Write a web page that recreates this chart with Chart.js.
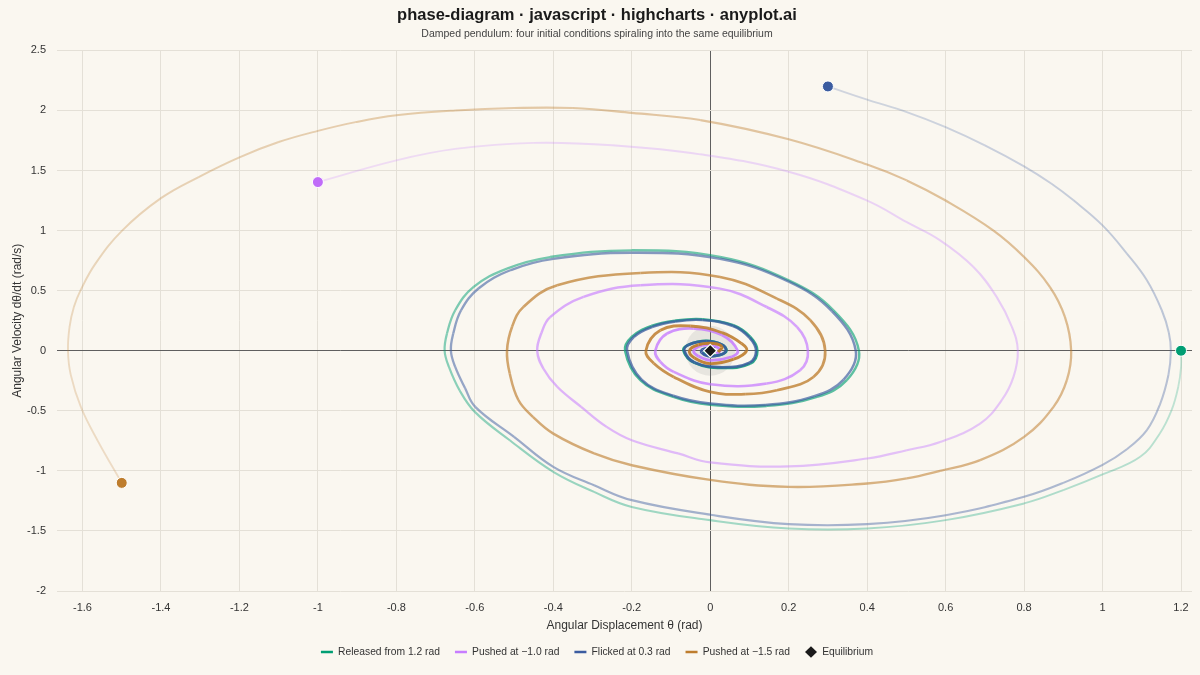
<!DOCTYPE html>
<html>
<head>
<meta charset="utf-8">
<script src="https://cdn.jsdelivr.net/npm/chart.js@4.4.1/dist/chart.umd.min.js"></script>
<style>
html,body{margin:0;padding:0;background:#FAF7F0;overflow:hidden;}
#wrap{width:1200px;height:675px;position:relative;}
</style>
</head>
<body>
<div id="wrap"><canvas id="c"></canvas></div>
<script>
// ---- Tick labels ----
const xTicks = [-1.6,-1.4,-1.2,-1,-0.8,-0.6,-0.4,-0.2,0,0.2,0.4,0.6,0.8,1,1.2];
const yTicks = [-2,-1.5,-1,-0.5,0,0.5,1,1.5,2,2.5];

// ---- Series names ----
const seriesNames = ['Released from 1.2 rad','Pushed at \u22121.0 rad','Flicked at 0.3 rad','Pushed at \u22121.5 rad'];

// ---- Released from 1.2 rad (theta, omega) ----
const greenTheta = [1.2,1.2,1.193,1.176,1.146,1.096,1.0,0.9,0.8,0.6,0.4,0.2,0.0,-0.2,-0.296,-0.4,-0.511,-0.6,-0.639,-0.666,-0.677,-0.671,-0.65,-0.603,-0.518,-0.408,-0.2,0.025,0.2,0.314,0.379,0.348,0.272,0.144,0.0,-0.094,-0.178,-0.217,-0.2,-0.15,-0.09,-0.02,0.059,0.102,0.12,0.102,0.03,-0.04,-0.068,-0.055,-0.01,0.03,0.041,0.025,-0.005,-0.02];
const greenOmega = [0,-0.135,-0.30,-0.495,-0.689,-0.883,-1.03,-1.16,-1.271,-1.41,-1.48,-1.48,-1.41,-1.30,-1.175,-1.008,-0.745,-0.509,-0.329,-0.135,0,0.143,0.337,0.531,0.684,0.78,0.836,0.78,0.586,0.337,0,-0.245,-0.384,-0.459,-0.45,-0.384,-0.245,0,0.115,0.205,0.25,0.262,0.212,0.115,0,-0.107,-0.143,-0.1,0,0.05,0.082,0.05,0,-0.035,-0.04,-0.015];

// ---- Pushed at -1.0 rad ----
const purpleTheta = [-1.0,-0.8,-0.65,-0.45,-0.25,-0.025,0.2,0.4,0.501,0.586,0.671,0.730,0.769,0.784,0.773,0.743,0.688,0.586,0.501,0.4,0.2,0.0,-0.082,-0.2,-0.264,-0.329,-0.39,-0.425,-0.441,-0.43,-0.408,-0.323,-0.178,0.025,0.144,0.221,0.249,0.229,0.144,0.0,-0.093,-0.127,-0.14,-0.11,-0.042,0.03,0.07,0.055,0.0,-0.03,-0.042,-0.02,0.01,0.025,0.015];
const purpleOmega = [1.404,1.585,1.68,1.73,1.71,1.635,1.49,1.25,1.07,0.919,0.697,0.448,0.198,0,-0.218,-0.412,-0.606,-0.759,-0.828,-0.897,-0.963,-0.93,-0.855,-0.745,-0.634,-0.467,-0.3,-0.15,0,0.15,0.28,0.448,0.545,0.517,0.364,0.198,0,-0.162,-0.273,-0.279,-0.176,-0.093,0,0.143,0.185,0.13,0,-0.05,-0.08,-0.045,0,0.045,0.04,0,-0.02];

// ---- Flicked at 0.3 rad ----
const blueTheta = [0.3,0.4,0.501,0.6,0.7,0.8,0.87,0.926,1.0,1.062,1.113,1.151,1.169,1.174,1.168,1.146,1.113,1.062,1.0,0.9,0.8,0.6,0.4,0.2,0.0,-0.2,-0.296,-0.4,-0.5,-0.599,-0.625,-0.65,-0.661,-0.655,-0.635,-0.59,-0.508,-0.4,-0.2,0.025,0.2,0.31,0.371,0.34,0.265,0.14,0.0,-0.094,-0.175,-0.212,-0.195,-0.147,-0.088,-0.02,0.058,0.1,0.117,0.1,0.03,-0.04,-0.066,-0.055,-0.01,0.03,0.04,0.025,-0.005,-0.022,-0.02,0.0,0.012];
const blueOmega = [2.2,2.09,1.987,1.862,1.71,1.535,1.39,1.252,1.044,0.809,0.587,0.337,0.15,0,-0.2,-0.45,-0.661,-0.82,-0.95,-1.10,-1.216,-1.369,-1.443,-1.443,-1.365,-1.244,-1.12,-0.967,-0.717,-0.467,-0.31,-0.135,0,0.143,0.337,0.52,0.672,0.765,0.815,0.765,0.575,0.33,0,-0.24,-0.378,-0.452,-0.44,-0.375,-0.24,0,0.115,0.2,0.245,0.256,0.207,0.11,0,-0.1,-0.138,-0.098,0,0.05,0.08,0.05,0,-0.035,-0.045,-0.015,0.01,0.025,0.015];

// ---- Pushed at -1.5 rad ----
const orangeTheta = [-1.5,-1.562,-1.604,-1.63,-1.637,-1.633,-1.622,-1.605,-1.567,-1.499,-1.40,-1.304,-1.2,-1.1,-1.0,-0.904,-0.8,-0.65,-0.5,-0.35,-0.2,-0.025,0.2,0.4,0.501,0.6,0.722,0.8,0.866,0.904,0.92,0.909,0.875,0.8,0.688,0.586,0.501,0.4,0.2,0.0,-0.2,-0.296,-0.4,-0.452,-0.489,-0.511,-0.518,-0.505,-0.476,-0.39,-0.178,0.025,0.17,0.255,0.293,0.263,0.17,0.089,0.0,-0.093,-0.144,-0.164,-0.127,-0.051,0.03,0.08,0.093,0.06,0.0,-0.04,-0.053,-0.03,0.01,0.03,0.02];
const orangeOmega = [-1.10,-0.745,-0.47,-0.2,0,0.198,0.364,0.503,0.725,1.0,1.27,1.446,1.61,1.737,1.83,1.903,1.96,2.0,2.02,2.02,1.98,1.92,1.76,1.55,1.418,1.25,1.0,0.78,0.53,0.281,0,-0.245,-0.467,-0.717,-0.911,-1.0,-1.063,-1.105,-1.133,-1.075,-0.953,-0.855,-0.69,-0.55,-0.41,-0.19,0,0.2,0.365,0.545,0.647,0.614,0.434,0.254,0,-0.218,-0.329,-0.362,-0.343,-0.218,-0.104,0,0.17,0.206,0.15,0.06,0,-0.07,-0.107,-0.06,0,0.05,0.06,0.03,-0.01];

// ---- Equilibrium ----
const eqTheta = [0];
const eqOmega = [0];

// ---- styles ----
const rgbGreen = '0,158,115', rgbPurple = '199,125,255', rgbBlue = '59,92,160', rgbOrange = '190,125,45';
const dotPurple = 'rgb(192,108,248)';

function pts(t, o){ return t.map((v,i)=>({x:v, y:o[i]})); }

function trajectory(label, t, o, rgb, dot, order){
  const n = t.length;
  const frac = ctx => ctx.p0DataIndex / (n - 1);
  return {
    label, data: pts(t,o), showLine: true, tension: 0.4, order,
    legendColor: 'rgb(' + rgb + ')',
    borderColor: 'rgb(' + rgb + ')',
    borderWidth: 2.2,
    borderCapStyle: 'butt',
    segment: {
      borderColor: ctx => 'rgba(' + rgb + ',' + (0.22 + 0.78 * Math.pow(frac(ctx), 1.1)).toFixed(3) + ')',
      borderWidth: ctx => 1.8 + 1.2 * frac(ctx)
    },
    pointRadius: ctx => ctx.dataIndex === 0 ? 5.5 : 0,
    pointHoverRadius: ctx => ctx.dataIndex === 0 ? 5.5 : 0,
    pointBackgroundColor: dot,
    pointBorderColor: '#ffffff',
    pointBorderWidth: 1,
    fill: false
  };
}

const datasets = [
  trajectory(seriesNames[0], greenTheta, greenOmega, rgbGreen, 'rgb(' + rgbGreen + ')', 5),
  trajectory(seriesNames[1], purpleTheta, purpleOmega, rgbPurple, dotPurple, 4),
  trajectory(seriesNames[2], blueTheta, blueOmega, rgbBlue, 'rgb(' + rgbBlue + ')', 3),
  trajectory(seriesNames[3], orangeTheta, orangeOmega, rgbOrange, 'rgb(' + rgbOrange + ')', 2),
  {
    label: 'Equilibrium', data: pts(eqTheta, eqOmega), showLine: false, order: 0,
    pointStyle: 'rectRot', pointRadius: 6.5, pointHoverRadius: 6.5,
    pointBackgroundColor: '#1a1a1a', pointBorderColor: '#ffffff', pointBorderWidth: 1.2,
    legendColor: '#1a1a1a'
  },
  {
    label: 'basin', data: pts(eqTheta, eqOmega), showLine: false, order: 100, noLegend: true,
    pointRadius: 25, pointHoverRadius: 25, pointBackgroundColor: 'rgba(120,120,120,0.14)', pointBorderWidth: 0
  }
];

const FONT = '"Liberation Sans", Arial, Helvetica, sans-serif';
Chart.defaults.font.family = FONT;

function zeroPad(s){ s.paddingLeft = 0; s.paddingRight = 0; s.paddingTop = 0; s.paddingBottom = 0; }

new Chart(document.getElementById('c'), {
  type: 'scatter',
  data: { datasets },
  options: {
    responsive: true, maintainAspectRatio: false, animation: false,
    layout: { autoPadding: false, padding: { left: 2, right: 8, top: 0, bottom: 7.85 } },
    plugins: {
      tooltip: { enabled: false },
      title: { display: true, text: 'phase-diagram \u00b7 javascript \u00b7 highcharts \u00b7 anyplot.ai',
        color: '#1a1a1a', font: { size: 16.5, weight: 'bold', family: FONT }, padding: { top: 6, bottom: 2 } },
      subtitle: { display: true, text: 'Damped pendulum: four initial conditions spiraling into the same equilibrium',
        color: '#444', font: { size: 10.5, family: FONT }, padding: { top: 0, bottom: 10 } },
      legend: {
        position: 'bottom',
        labels: {
          usePointStyle: true, pointStyleWidth: 12, boxHeight: 8, padding: 15,
          color: '#333', font: { size: 10.3, family: FONT },
          generateLabels: chart => chart.data.datasets.map((d, i) => d.noLegend ? null : ({
            text: d.label, datasetIndex: i,
            pointStyle: d.label === 'Equilibrium' ? 'rectRot' : 'line',
            strokeStyle: d.label === 'Equilibrium' ? '#ffffff' : d.legendColor,
            fillStyle: d.legendColor,
            lineWidth: d.label === 'Equilibrium' ? 0 : 2.5,
            fontColor: '#333',
            hidden: !chart.isDatasetVisible(i)
          })).filter(Boolean)
        }
      }
    },
    scales: {
      x: {
        type: 'linear', min: -1.665, max: 1.228,
        afterBuildTicks: s => { s.ticks = xTicks.map(v => ({ value: v })); },
        afterFit: s => { s.height = 40.85; zeroPad(s); },
        border: { display: false },
        grid: { drawTicks: false, color: c => (c.tick && c.tick.value === 0) ? '#5f5f5f' : '#e4e0d7', lineWidth: 1 },
        ticks: { padding: 10, color: '#333', font: { size: 11 }, callback: v => String(v), maxRotation: 0, autoSkip: false },
        title: { display: true, text: 'Angular Displacement \u03b8 (rad)', color: '#333', font: { size: 12 }, padding: { top: 0, bottom: -1.35 } }
      },
      y: {
        type: 'linear', min: -2, max: 2.5,
        afterBuildTicks: s => { s.ticks = yTicks.map(v => ({ value: v })); },
        afterFit: s => { s.width = 55; zeroPad(s); },
        border: { display: false },
        grid: { drawTicks: false, color: c => (c.tick && c.tick.value === 0) ? '#5f5f5f' : '#e4e0d7', lineWidth: 1 },
        ticks: { padding: 11, color: '#333', font: { size: 11 }, callback: v => String(v), autoSkip: false },
        title: { display: true, text: 'Angular Velocity d\u03b8/dt (rad/s)', color: '#333', font: { size: 12 }, padding: { top: 8, bottom: 0 } }
      }
    }
  }
});
</script>
</body>
</html>
